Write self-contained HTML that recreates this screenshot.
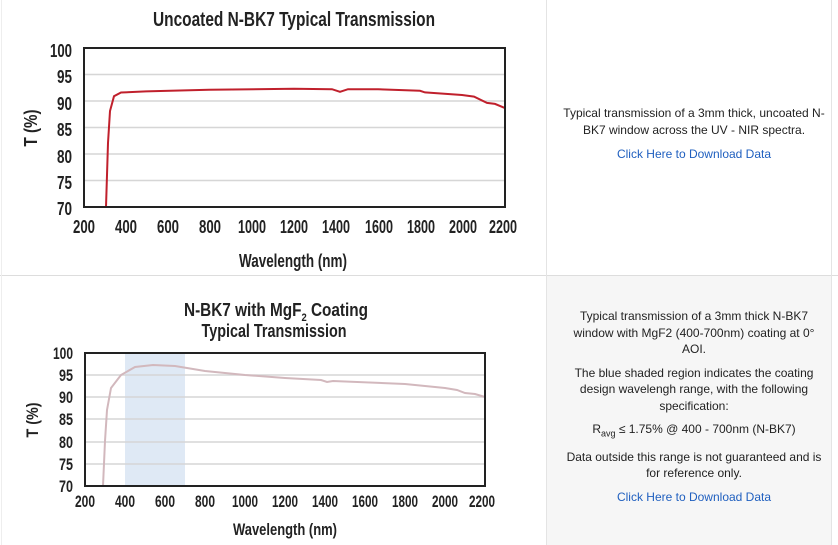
<!DOCTYPE html>
<html><head><meta charset="utf-8"><style>
body{margin:0;width:838px;height:545px;background:#fff;overflow:hidden;font-family:"Liberation Sans",sans-serif}
.p{position:absolute;text-align:center;color:#222;font-size:12px;line-height:16.5px;white-space:nowrap}
.p a{color:#1f5fbf;text-decoration:none}
.p div{margin-bottom:7px}
</style></head><body>
<div style="position:absolute;left:546px;top:275px;width:286px;height:270px;background:#f6f6f6"></div>
<svg width="838" height="545" style="position:absolute;left:0;top:0" font-family="'Liberation Sans',sans-serif" font-weight="bold">
<line x1="0" y1="275.5" x2="838" y2="275.5" stroke="#ddd"/>
<line x1="546.5" y1="0" x2="546.5" y2="545" stroke="#e4e4e4"/>
<line x1="831.5" y1="0" x2="831.5" y2="545" stroke="#e4e4e4"/>
<line x1="1.5" y1="0" x2="1.5" y2="545" stroke="#eee"/>
<!-- top chart -->
<text x="294" y="26" font-size="20" text-anchor="middle" textLength="282" lengthAdjust="spacingAndGlyphs" fill="#222">Uncoated N-BK7 Typical Transmission</text>
<g stroke="#d6d6d6" stroke-width="1.5">
<line x1="84" x2="505" y1="74.5" y2="74.5"/><line x1="84" x2="505" y1="101" y2="101"/><line x1="84" x2="505" y1="127.5" y2="127.5"/><line x1="84" x2="505" y1="154" y2="154"/><line x1="84" x2="505" y1="180.5" y2="180.5"/></g>
<polyline fill="none" stroke="#c0202c" stroke-width="2" points="106,207 108,143 110,111 114,96.2 121,92.5 146,91.4 209,89.8 294,88.7 332,89.2 340,91.8 348,89.2 378,89.2 420,90.8 425,92.4 462,95 474,96.6 487,102.9 495,103.9 505,108.1"/>
<rect x="84" y="48" width="421" height="159" fill="none" stroke="#222" stroke-width="2"/>
<g font-size="18" fill="#222" text-anchor="end">
<text x="72" y="57" textLength="22" lengthAdjust="spacingAndGlyphs">100</text><text x="72" y="83" textLength="15" lengthAdjust="spacingAndGlyphs">95</text><text x="72" y="110" textLength="15" lengthAdjust="spacingAndGlyphs">90</text><text x="72" y="136" textLength="15" lengthAdjust="spacingAndGlyphs">85</text><text x="72" y="163" textLength="15" lengthAdjust="spacingAndGlyphs">80</text><text x="72" y="189" textLength="15" lengthAdjust="spacingAndGlyphs">75</text><text x="72" y="215" textLength="15" lengthAdjust="spacingAndGlyphs">70</text></g>
<g font-size="18" fill="#222" text-anchor="middle">
<text x="84" y="233" textLength="22" lengthAdjust="spacingAndGlyphs">200</text><text x="126" y="233" textLength="22" lengthAdjust="spacingAndGlyphs">400</text><text x="168" y="233" textLength="22" lengthAdjust="spacingAndGlyphs">600</text><text x="210" y="233" textLength="22" lengthAdjust="spacingAndGlyphs">800</text><text x="252" y="233" textLength="28" lengthAdjust="spacingAndGlyphs">1000</text><text x="294" y="233" textLength="28" lengthAdjust="spacingAndGlyphs">1200</text><text x="336" y="233" textLength="28" lengthAdjust="spacingAndGlyphs">1400</text><text x="379" y="233" textLength="28" lengthAdjust="spacingAndGlyphs">1600</text><text x="421" y="233" textLength="28" lengthAdjust="spacingAndGlyphs">1800</text><text x="463" y="233" textLength="28" lengthAdjust="spacingAndGlyphs">2000</text><text x="503" y="233" textLength="28" lengthAdjust="spacingAndGlyphs">2200</text></g>
<text x="293" y="267" font-size="18" text-anchor="middle" fill="#222" textLength="108" lengthAdjust="spacingAndGlyphs">Wavelength (nm)</text>
<text transform="translate(37,128) rotate(-90)" font-size="18" text-anchor="middle" fill="#222" textLength="37" lengthAdjust="spacingAndGlyphs">T (%)</text>
<!-- bottom chart -->
<text x="276" y="316" font-size="18" text-anchor="middle" fill="#222" textLength="184" lengthAdjust="spacingAndGlyphs">N-BK7 with MgF<tspan font-size="11" dy="5">2</tspan><tspan dy="-5"> Coating</tspan></text>
<text x="274" y="337" font-size="18" text-anchor="middle" fill="#222" textLength="145" lengthAdjust="spacingAndGlyphs">Typical Transmission</text>
<rect x="125" y="353" width="60" height="133" fill="#dfe9f5"/>
<g stroke="#d6d6d6" stroke-width="1.5">
<line x1="85" x2="485" y1="375" y2="375"/><line x1="85" x2="485" y1="397" y2="397"/><line x1="85" x2="485" y1="419" y2="419"/><line x1="85" x2="485" y1="442" y2="442"/><line x1="85" x2="485" y1="464" y2="464"/></g>
<polyline fill="none" stroke="#d2b8bd" stroke-width="2" points="103,486 105,441 107,410 111,388 121,375 135,367 153,365 175,366 205,371 245,375 285,378 321,380 327,382 333,381 405,384 445,388 457,390 465,393 475,394 485,397"/>
<rect x="85" y="353" width="400" height="133" fill="none" stroke="#222" stroke-width="2"/>
<g font-size="17" fill="#222" text-anchor="end">
<text x="73" y="359" textLength="20" lengthAdjust="spacingAndGlyphs">100</text><text x="73" y="381" textLength="14" lengthAdjust="spacingAndGlyphs">95</text><text x="73" y="403" textLength="14" lengthAdjust="spacingAndGlyphs">90</text><text x="73" y="425" textLength="14" lengthAdjust="spacingAndGlyphs">85</text><text x="73" y="448" textLength="14" lengthAdjust="spacingAndGlyphs">80</text><text x="73" y="470" textLength="14" lengthAdjust="spacingAndGlyphs">75</text><text x="73" y="492" textLength="14" lengthAdjust="spacingAndGlyphs">70</text></g>
<g font-size="17" fill="#222" text-anchor="middle">
<text x="85" y="507" textLength="20" lengthAdjust="spacingAndGlyphs">200</text><text x="125" y="507" textLength="20" lengthAdjust="spacingAndGlyphs">400</text><text x="165" y="507" textLength="20" lengthAdjust="spacingAndGlyphs">600</text><text x="205" y="507" textLength="20" lengthAdjust="spacingAndGlyphs">800</text><text x="245" y="507" textLength="26" lengthAdjust="spacingAndGlyphs">1000</text><text x="285" y="507" textLength="26" lengthAdjust="spacingAndGlyphs">1200</text><text x="325" y="507" textLength="26" lengthAdjust="spacingAndGlyphs">1400</text><text x="365" y="507" textLength="26" lengthAdjust="spacingAndGlyphs">1600</text><text x="405" y="507" textLength="26" lengthAdjust="spacingAndGlyphs">1800</text><text x="445" y="507" textLength="26" lengthAdjust="spacingAndGlyphs">2000</text><text x="482" y="507" textLength="26" lengthAdjust="spacingAndGlyphs">2200</text></g>
<text x="285" y="535" font-size="17" text-anchor="middle" fill="#222" textLength="104" lengthAdjust="spacingAndGlyphs">Wavelength (nm)</text>
<text transform="translate(38,420) rotate(-90)" font-size="17" text-anchor="middle" fill="#222" textLength="35" lengthAdjust="spacingAndGlyphs">T (%)</text>
</svg>
<div class="p" style="left:556px;top:105px;width:276px">
<div style="margin-bottom:8px">Typical transmission of a 3mm thick, uncoated N-<br>BK7 window across the UV - NIR spectra.</div>
<div><a>Click Here to Download Data</a></div></div>
<div class="p" style="left:556px;top:308px;width:276px">
<div>Typical transmission of a 3mm thick N-BK7<br>window with MgF2 (400-700nm) coating at 0°<br>AOI.</div>
<div>The blue shaded region indicates the coating<br>design wavelengh range, with the following<br>specification:</div>
<div>R<sub style="font-size:9px">avg</sub> ≤ 1.75% @ 400 - 700nm (N-BK7)</div>
<div>Data outside this range is not guaranteed and is<br>for reference only.</div>
<div><a>Click Here to Download Data</a></div></div>
</body></html>
